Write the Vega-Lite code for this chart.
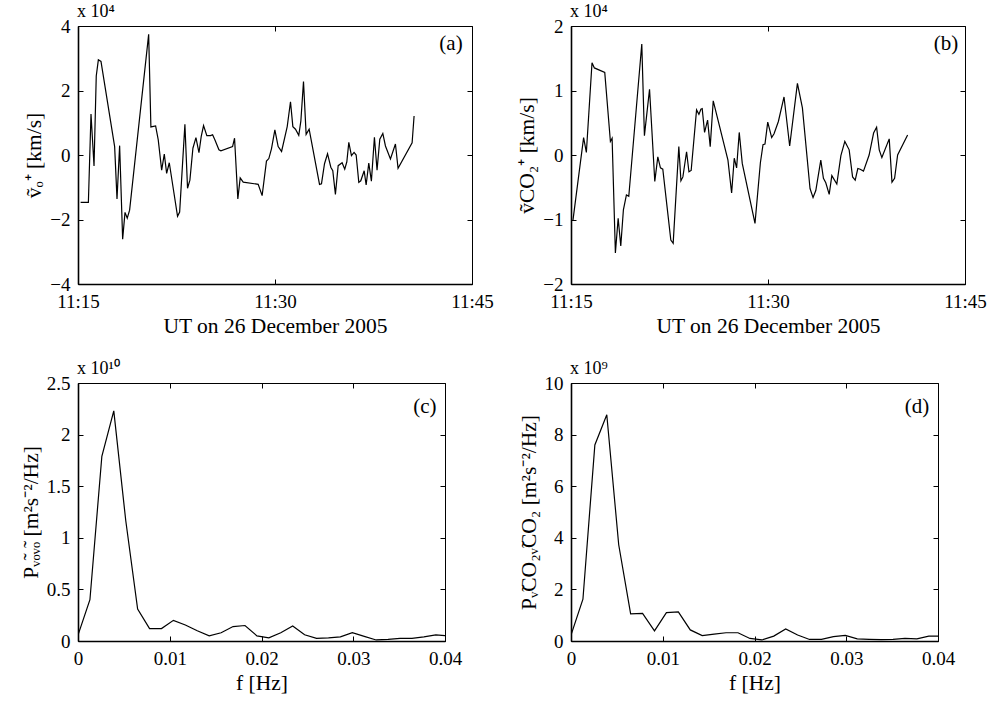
{
  "$schema": "https://vega.github.io/schema/vega-lite/v6.json",
  "background": "white",
  "padding": {"left": 19, "top": 2, "right": 5, "bottom": 0},
  "config": {
    "font": "'Liberation Serif', 'Times New Roman', serif",
    "view": {"stroke": "black", "strokeWidth": 1},
    "axis": {
      "grid": false,
      "domainColor": "black",
      "domainWidth": 1.6,
      "tickColor": "black",
      "tickSize": -5,
      "tickWidth": 1,
      "labelPadding": 13,
      "labelFont": "'Liberation Serif', 'Times New Roman', serif",
      "labelFontSize": 19,
      "labelColor": "black",
      "labelFlush": false,
      "labelOverlap": false,
      "titleFont": "'Liberation Serif', 'Times New Roman', serif",
      "titleFontSize": 21.5,
      "titleFontWeight": "normal",
      "titleColor": "black"
    },
    "title": {"font": "'Liberation Serif', 'Times New Roman', serif", "fontSize": 18, "fontWeight": "normal", "color": "black", "anchor": "start", "frame": "group", "offset": -4},
    "text": {"font": "'Liberation Serif', 'Times New Roman', serif"},
    "line": {"color": "black", "strokeWidth": 1.2}
  },
  "datasets": {
    "va": [
      {"minute": 15.2, "v": -14700}, {"minute": 15.79, "v": -14700}, {"minute": 15.99, "v": 12700}, {"minute": 16.22, "v": -3400},
      {"minute": 16.39, "v": 24500}, {"minute": 16.55, "v": 29500}, {"minute": 16.75, "v": 29000}, {"minute": 17.79, "v": 2600},
      {"minute": 17.97, "v": -13600}, {"minute": 18.17, "v": 2900}, {"minute": 18.4, "v": -26100}, {"minute": 18.58, "v": -17800},
      {"minute": 18.75, "v": -19600}, {"minute": 18.93, "v": -17100}, {"minute": 20.38, "v": 37400}, {"minute": 20.55, "v": 8700},
      {"minute": 20.91, "v": 9000}, {"minute": 21.11, "v": 4700}, {"minute": 21.37, "v": -4700}, {"minute": 21.57, "v": 300},
      {"minute": 21.75, "v": -5700}, {"minute": 21.95, "v": -2400}, {"minute": 22.58, "v": -19000}, {"minute": 22.74, "v": -17700},
      {"minute": 23.14, "v": 9500}, {"minute": 23.34, "v": -10300}, {"minute": 23.52, "v": -7800}, {"minute": 23.75, "v": 2100},
      {"minute": 23.98, "v": 5400}, {"minute": 24.21, "v": 700}, {"minute": 24.38, "v": 5700}, {"minute": 24.56, "v": 9100},
      {"minute": 24.81, "v": 6000}, {"minute": 25.09, "v": 6000}, {"minute": 25.25, "v": 6300}, {"minute": 25.42, "v": 4700},
      {"minute": 25.73, "v": 1600}, {"minute": 25.88, "v": 1300}, {"minute": 26.77, "v": 2600}, {"minute": 26.92, "v": 5200},
      {"minute": 27.17, "v": -13600}, {"minute": 27.35, "v": -7100}, {"minute": 27.58, "v": -8400}, {"minute": 28.72, "v": -9100},
      {"minute": 29.02, "v": -12600}, {"minute": 29.35, "v": -1900}, {"minute": 29.53, "v": -1100}, {"minute": 29.73, "v": 1900},
      {"minute": 29.99, "v": 7800}, {"minute": 30.24, "v": 2600}, {"minute": 30.5, "v": 1100}, {"minute": 30.93, "v": 8800},
      {"minute": 31.18, "v": 16500}, {"minute": 31.36, "v": 8800}, {"minute": 31.56, "v": 8000}, {"minute": 31.81, "v": 6100},
      {"minute": 31.97, "v": 10600}, {"minute": 32.17, "v": 22800}, {"minute": 32.37, "v": 6400}, {"minute": 32.6, "v": 8000},
      {"minute": 33.39, "v": -9100}, {"minute": 33.54, "v": -8900}, {"minute": 33.77, "v": -2700}, {"minute": 34.0, "v": 400},
      {"minute": 34.25, "v": -3800}, {"minute": 34.4, "v": -4900}, {"minute": 34.6, "v": -12200}, {"minute": 34.81, "v": -3300},
      {"minute": 35.11, "v": -2400}, {"minute": 35.31, "v": -4400}, {"minute": 35.47, "v": -2100}, {"minute": 35.62, "v": 3900},
      {"minute": 35.82, "v": -200}, {"minute": 36.02, "v": 800}, {"minute": 36.18, "v": 0}, {"minute": 36.38, "v": -8500},
      {"minute": 36.53, "v": -8000}, {"minute": 36.79, "v": -4900}, {"minute": 36.94, "v": -9300}, {"minute": 37.14, "v": -2500},
      {"minute": 37.34, "v": -8100}, {"minute": 37.57, "v": 5500}, {"minute": 37.77, "v": -4700}, {"minute": 37.98, "v": 4900},
      {"minute": 38.21, "v": 6700}, {"minute": 38.41, "v": 2800}, {"minute": 38.79, "v": -1200}, {"minute": 39.17, "v": 3400},
      {"minute": 39.37, "v": -4100}, {"minute": 40.44, "v": 3800}, {"minute": 40.59, "v": 12100}
    ],
    "vb": [
      {"minute": 15.15, "v": -10100}, {"minute": 15.96, "v": 2700}, {"minute": 16.17, "v": 400}, {"minute": 16.6, "v": 14300},
      {"minute": 16.78, "v": 13500}, {"minute": 17.57, "v": 12800}, {"minute": 18.0, "v": 2100}, {"minute": 18.13, "v": 2600},
      {"minute": 18.38, "v": -15200}, {"minute": 18.59, "v": -9800}, {"minute": 18.79, "v": -14100}, {"minute": 18.99, "v": -8500},
      {"minute": 19.22, "v": -6200}, {"minute": 19.4, "v": -6400}, {"minute": 20.39, "v": 17200}, {"minute": 20.59, "v": 3000},
      {"minute": 20.98, "v": 10200}, {"minute": 21.38, "v": -4100}, {"minute": 21.61, "v": -300}, {"minute": 21.81, "v": -2000},
      {"minute": 21.99, "v": -2200}, {"minute": 22.6, "v": -13200}, {"minute": 22.78, "v": -13700}, {"minute": 23.21, "v": 1300},
      {"minute": 23.37, "v": -4000}, {"minute": 23.52, "v": -3400}, {"minute": 23.8, "v": 500}, {"minute": 23.98, "v": -2600},
      {"minute": 24.15, "v": -2400}, {"minute": 24.56, "v": 7000}, {"minute": 24.74, "v": 6300}, {"minute": 24.89, "v": 7100},
      {"minute": 24.99, "v": 7200}, {"minute": 25.17, "v": 3500}, {"minute": 25.4, "v": 5400}, {"minute": 25.6, "v": 1300},
      {"minute": 25.83, "v": 8400}, {"minute": 26.95, "v": -800}, {"minute": 27.23, "v": -5900}, {"minute": 27.43, "v": -500},
      {"minute": 27.61, "v": -2000}, {"minute": 27.81, "v": 3500}, {"minute": 28.04, "v": -1300}, {"minute": 29.01, "v": -10600},
      {"minute": 29.42, "v": -1200}, {"minute": 29.62, "v": 1600}, {"minute": 29.77, "v": 1700}, {"minute": 29.98, "v": 5100},
      {"minute": 30.28, "v": 2700}, {"minute": 30.46, "v": 3300}, {"minute": 30.79, "v": 5200}, {"minute": 31.22, "v": 9000},
      {"minute": 31.65, "v": 1400}, {"minute": 32.24, "v": 11100}, {"minute": 32.62, "v": 7300}, {"minute": 33.2, "v": -5200},
      {"minute": 33.43, "v": -6600}, {"minute": 33.64, "v": -5500}, {"minute": 34.02, "v": -800}, {"minute": 34.22, "v": -3600},
      {"minute": 34.4, "v": -4300}, {"minute": 34.66, "v": -6100}, {"minute": 34.86, "v": -3200}, {"minute": 35.24, "v": -4500},
      {"minute": 35.55, "v": -100}, {"minute": 35.85, "v": 2100}, {"minute": 36.18, "v": 800}, {"minute": 36.44, "v": -3400},
      {"minute": 36.64, "v": -3900}, {"minute": 36.84, "v": -2100}, {"minute": 37.02, "v": -2200}, {"minute": 37.27, "v": -2500},
      {"minute": 37.7, "v": 0}, {"minute": 38.04, "v": 3400}, {"minute": 38.27, "v": 4300}, {"minute": 38.47, "v": 800},
      {"minute": 38.67, "v": -400}, {"minute": 39.23, "v": 2500}, {"minute": 39.44, "v": -4200}, {"minute": 39.64, "v": -3600},
      {"minute": 39.87, "v": 0}, {"minute": 40.63, "v": 3100}
    ],
    "pc": [
      {"f": 0, "p": 580000000}, {"f": 0.0013, "p": 4000000000}, {"f": 0.0026, "p": 17900000000}, {"f": 0.0039, "p": 22300000000},
      {"f": 0.0052, "p": 11700000000}, {"f": 0.0065, "p": 3100000000}, {"f": 0.0078, "p": 1200000000}, {"f": 0.0091, "p": 1200000000},
      {"f": 0.0104, "p": 2000000000}, {"f": 0.0117, "p": 1550000000}, {"f": 0.013, "p": 1000000000}, {"f": 0.0143, "p": 500000000},
      {"f": 0.0156, "p": 800000000}, {"f": 0.0169, "p": 1400000000}, {"f": 0.0182, "p": 1500000000}, {"f": 0.0195, "p": 500000000},
      {"f": 0.0208, "p": 300000000}, {"f": 0.0221, "p": 800000000}, {"f": 0.0234, "p": 1450000000}, {"f": 0.0247, "p": 600000000},
      {"f": 0.026, "p": 260000000}, {"f": 0.0273, "p": 300000000}, {"f": 0.0286, "p": 400000000}, {"f": 0.0299, "p": 800000000},
      {"f": 0.0312, "p": 450000000}, {"f": 0.0325, "p": 100000000}, {"f": 0.0338, "p": 160000000}, {"f": 0.0351, "p": 260000000},
      {"f": 0.0364, "p": 260000000}, {"f": 0.0377, "p": 400000000}, {"f": 0.039, "p": 600000000}, {"f": 0.0403, "p": 500000000}
    ],
    "pd": [
      {"f": 0, "p": 230000000}, {"f": 0.0013, "p": 1620000000}, {"f": 0.0026, "p": 7600000000}, {"f": 0.0039, "p": 8770000000},
      {"f": 0.0052, "p": 3730000000}, {"f": 0.0065, "p": 1050000000}, {"f": 0.0078, "p": 1070000000}, {"f": 0.0091, "p": 390000000},
      {"f": 0.0104, "p": 1100000000}, {"f": 0.0117, "p": 1130000000}, {"f": 0.013, "p": 430000000}, {"f": 0.0143, "p": 210000000},
      {"f": 0.0156, "p": 270000000}, {"f": 0.0169, "p": 320000000}, {"f": 0.0182, "p": 320000000}, {"f": 0.0195, "p": 100000000},
      {"f": 0.0208, "p": 40000000}, {"f": 0.0221, "p": 190000000}, {"f": 0.0234, "p": 470000000}, {"f": 0.0247, "p": 230000000},
      {"f": 0.026, "p": 60000000}, {"f": 0.0273, "p": 60000000}, {"f": 0.0286, "p": 170000000}, {"f": 0.0299, "p": 220000000},
      {"f": 0.0312, "p": 80000000}, {"f": 0.0325, "p": 60000000}, {"f": 0.0338, "p": 50000000}, {"f": 0.0351, "p": 60000000},
      {"f": 0.0364, "p": 100000000}, {"f": 0.0377, "p": 80000000}, {"f": 0.039, "p": 190000000}, {"f": 0.0403, "p": 190000000}
    ]
  },
  "columns": 2,
  "bounds": "flush",
  "spacing": {"row": 99, "column": 99},
  "concat": [
    {
      "width": 394, "height": 258,
      "title": {"text": "x 10⁴", "dx": -1},
      "layer": [
        {
          "data": {"name": "va"},
          "mark": {"type": "line", "clip": true},
          "encoding": {
            "x": {"field": "minute", "type": "quantitative", "scale": {"domain": [15, 45], "nice": false, "zero": false},
              "axis": {"values": [15, 30, 45], "labelExpr": "'11:' + datum.value", "title": "UT on 26 December 2005"}},
            "y": {"field": "v", "type": "quantitative", "scale": {"domain": [-40000, 40000], "nice": false},
              "axis": {"values": [-40000, -20000, 0, 20000, 40000], "labelExpr": "format(datum.value / 10000, '~g')", "title": "ṽₒ⁺ [km/s]"}}
          }
        },
        {
          "data": {"values": [{"minute": 43.4, "v": 34400, "label": "(a)"}]},
          "mark": {"type": "text", "fontSize": 21, "color": "black"},
          "encoding": {
            "x": {"field": "minute", "type": "quantitative", "axis": {"orient": "top", "values": [15, 30, 45], "labels": false, "domain": false, "title": null}},
            "y": {"field": "v", "type": "quantitative", "axis": {"orient": "right", "values": [-40000, -20000, 0, 20000, 40000], "labels": false, "domain": false, "title": null}},
            "text": {"field": "label"}
          }
        }
      ],
      "resolve": {"axis": {"x": "independent", "y": "independent"}}
    },
    {
      "width": 394, "height": 258,
      "title": {"text": "x 10⁴", "dx": -1},
      "layer": [
        {
          "data": {"name": "vb"},
          "mark": {"type": "line", "clip": true},
          "encoding": {
            "x": {"field": "minute", "type": "quantitative", "scale": {"domain": [15, 45], "nice": false, "zero": false},
              "axis": {"values": [15, 30, 45], "labelExpr": "'11:' + datum.value", "title": "UT on 26 December 2005"}},
            "y": {"field": "v", "type": "quantitative", "scale": {"domain": [-20000, 20000], "nice": false},
              "axis": {"values": [-20000, -10000, 0, 10000, 20000], "labelExpr": "format(datum.value / 10000, '~g')", "title": "ṽCO₂⁺ [km/s]"}}
          }
        },
        {
          "data": {"values": [{"minute": 43.56, "v": 17200, "label": "(b)"}]},
          "mark": {"type": "text", "fontSize": 21, "color": "black"},
          "encoding": {
            "x": {"field": "minute", "type": "quantitative", "axis": {"orient": "top", "values": [15, 30, 45], "labels": false, "domain": false, "title": null}},
            "y": {"field": "v", "type": "quantitative", "axis": {"orient": "right", "values": [-20000, -10000, 0, 10000, 20000], "labels": false, "domain": false, "title": null}},
            "text": {"field": "label"}
          }
        }
      ],
      "resolve": {"axis": {"x": "independent", "y": "independent"}}
    },
    {
      "width": 367, "height": 258,
      "title": {"text": "x 10¹⁰", "dx": -1},
      "layer": [
        {
          "data": {"name": "pc"},
          "mark": {"type": "line", "clip": true},
          "encoding": {
            "x": {"field": "f", "type": "quantitative", "scale": {"domain": [0, 0.04], "nice": false},
              "axis": {"values": [0, 0.01, 0.02, 0.03, 0.04], "format": "~g", "title": "f [Hz]"}},
            "y": {"field": "p", "type": "quantitative", "scale": {"domain": [0, 25000000000], "nice": false},
              "axis": {"values": [0, 5000000000, 10000000000, 15000000000, 20000000000, 25000000000], "labelExpr": "format(datum.value / 1e10, '~g')", "title": "Pᵥ̃ₒᵥ̃ₒ [m²s⁻²/Hz]"}}
          }
        },
        {
          "data": {"values": [{"f": 0.0378, "p": 22700000000, "label": "(c)"}]},
          "mark": {"type": "text", "fontSize": 21, "color": "black"},
          "encoding": {
            "x": {"field": "f", "type": "quantitative", "axis": {"orient": "top", "values": [0, 0.01, 0.02, 0.03, 0.04], "labels": false, "domain": false, "title": null}},
            "y": {"field": "p", "type": "quantitative", "axis": {"orient": "right", "values": [0, 5000000000, 10000000000, 15000000000, 20000000000, 25000000000], "labels": false, "domain": false, "title": null}},
            "text": {"field": "label"}
          }
        }
      ],
      "resolve": {"axis": {"x": "independent", "y": "independent"}}
    },
    {
      "width": 367, "height": 258,
      "title": {"text": "x 10⁹", "dx": -1},
      "layer": [
        {
          "data": {"name": "pd"},
          "mark": {"type": "line", "clip": true},
          "encoding": {
            "x": {"field": "f", "type": "quantitative", "scale": {"domain": [0, 0.04], "nice": false},
              "axis": {"values": [0, 0.01, 0.02, 0.03, 0.04], "format": "~g", "title": "f [Hz]"}},
            "y": {"field": "p", "type": "quantitative", "scale": {"domain": [0, 10000000000], "nice": false},
              "axis": {"values": [0, 2000000000, 4000000000, 6000000000, 8000000000, 10000000000], "labelExpr": "format(datum.value / 1e9, '~g')", "title": "Pᵥ̃CO₂ᵥ̃CO₂ [m²s⁻²/Hz]"}}
          }
        },
        {
          "data": {"values": [{"f": 0.0377, "p": 9070000000, "label": "(d)"}]},
          "mark": {"type": "text", "fontSize": 21, "color": "black"},
          "encoding": {
            "x": {"field": "f", "type": "quantitative", "axis": {"orient": "top", "values": [0, 0.01, 0.02, 0.03, 0.04], "labels": false, "domain": false, "title": null}},
            "y": {"field": "p", "type": "quantitative", "axis": {"orient": "right", "values": [0, 2000000000, 4000000000, 6000000000, 8000000000, 10000000000], "labels": false, "domain": false, "title": null}},
            "text": {"field": "label"}
          }
        }
      ],
      "resolve": {"axis": {"x": "independent", "y": "independent"}}
    }
  ]
}
